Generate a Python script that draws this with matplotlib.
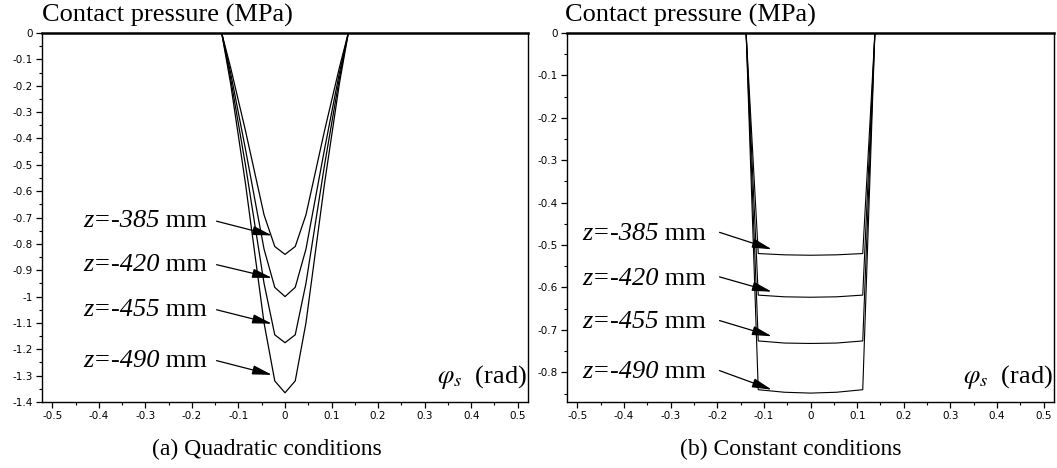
import numpy as np
import matplotlib
matplotlib.use('Agg')
import matplotlib.pyplot as plt
from matplotlib.ticker import MultipleLocator, FuncFormatter

# Presión de contacto vs ángulo
z_labels = ['-385', '-420', '-455', '-490']

quad_phi = [-0.136, -0.117, -0.085, -0.045, -0.022, 0.0, 0.022, 0.045, 0.085, 0.117, 0.136]
quad_p385 = [0, -0.13, -0.37, -0.69, -0.81, -0.84, -0.81, -0.69, -0.37, -0.13, 0]
quad_p420 = [0, -0.15, -0.44, -0.82, -0.965, -1.00, -0.965, -0.82, -0.44, -0.15, 0]
quad_p455 = [0, -0.17, -0.50, -0.95, -1.145, -1.175, -1.145, -0.95, -0.50, -0.17, 0]
quad_p490 = [0, -0.19, -0.57, -1.10, -1.32, -1.365, -1.32, -1.10, -0.57, -0.19, 0]

const_phi = [-0.138, -0.112, -0.056, 0.0, 0.056, 0.112, 0.138]
const_p385 = [0, -0.520, -0.523, -0.524, -0.523, -0.520, 0]
const_p420 = [0, -0.618, -0.622, -0.623, -0.622, -0.618, 0]
const_p455 = [0, -0.726, -0.731, -0.732, -0.731, -0.726, 0]
const_p490 = [0, -0.841, -0.847, -0.849, -0.847, -0.841, 0]

# posiciones de las etiquetas y flechas (coordenadas de datos)
quad_txt_y = [-0.715, -0.88, -1.05, -1.245]
quad_arrow_start = [(-0.147, -0.714), (-0.147, -0.879), (-0.147, -1.050), (-0.147, -1.243)]
quad_arrow_tip = [(-0.028, -0.768), (-0.028, -0.929), (-0.028, -1.103), (-0.028, -1.297)]

const_txt_y = [-0.475, -0.580, -0.682, -0.800]
const_arrow_start = [(-0.195, -0.470), (-0.195, -0.575), (-0.195, -0.678), (-0.195, -0.796)]
const_arrow_tip = [(-0.083, -0.510), (-0.083, -0.610), (-0.083, -0.715), (-0.083, -0.841)]

plt.rcParams['mathtext.fontset'] = 'stix'
plt.rcParams['axes.unicode_minus'] = False
SERIF = 'Liberation Serif'


def fmt(v, pos):
    s = f'{v:.2f}'.rstrip('0').rstrip('.')
    if s in ('-0', '0'):
        return '0'
    return s


def estilo(ax, ylim):
    ax.set_xlim(-0.522, 0.522)
    ax.set_ylim(ylim, 0)
    ax.xaxis.set_major_locator(MultipleLocator(0.1))
    ax.xaxis.set_minor_locator(MultipleLocator(0.05))
    ax.yaxis.set_major_locator(MultipleLocator(0.1))
    ax.yaxis.set_minor_locator(MultipleLocator(0.05))
    ax.xaxis.set_major_formatter(FuncFormatter(fmt))
    ax.yaxis.set_major_formatter(FuncFormatter(fmt))
    ax.tick_params(which='major', length=4, width=0.9, labelsize=7.5, pad=2.5)
    ax.tick_params(which='minor', length=2.2, width=0.8)
    for lado in ['left', 'bottom', 'right']:
        ax.spines[lado].set_linewidth(1.0)
    ax.spines['top'].set_linewidth(1.8)


def etiqueta(ax, x, y, num, start, tip):
    t = ax.text(x, y, 'z=' + num, fontfamily=SERIF, fontstyle='italic',
                fontsize=19, ha='left', va='center')
    ax.annotate(' mm', xy=(1, 0), xycoords=t, va='bottom', ha='left',
                fontfamily=SERIF, fontsize=19)
    ax.annotate('', xy=tip, xytext=start,
                arrowprops=dict(arrowstyle='-|>,head_length=0.85,head_width=0.2',
                                mutation_scale=14, color='black', lw=0.9,
                                shrinkA=0, shrinkB=0))


fig = plt.figure(figsize=(10.57, 4.68), dpi=100)
ax1 = fig.add_axes([42 / 1057, 66 / 468, 486 / 1057, 369 / 468])
ax2 = fig.add_axes([567 / 1057, 66 / 468, 487 / 1057, 369 / 468])

# (a) condiciones cuadráticas
for p in [quad_p385, quad_p420, quad_p455, quad_p490]:
    ax1.plot(quad_phi, p, color='black', lw=0.9)
estilo(ax1, -1.4)
for num, y, s, tp in zip(z_labels, quad_txt_y, quad_arrow_start, quad_arrow_tip):
    etiqueta(ax1, -0.434, y, num, s, tp)

# (b) condiciones constantes
for p in [const_p385, const_p420, const_p455, const_p490]:
    ax2.plot(const_phi, p, color='black', lw=0.8)
estilo(ax2, -0.87)
for num, y, s, tp in zip(z_labels, const_txt_y, const_arrow_start, const_arrow_tip):
    etiqueta(ax2, -0.49, y, num, s, tp)

for ax in [ax1, ax2]:
    ax.text(0.999, 0.052, r'$\varphi_s$  (rad)', transform=ax.transAxes,
            ha='right', va='baseline', fontsize=19, fontfamily=SERIF)

fig.text(42 / 1057, 1 - 22 / 468, 'Contact pressure (MPa)', fontfamily=SERIF,
         fontsize=19, ha='left', va='baseline')
fig.text(565 / 1057, 1 - 22 / 468, 'Contact pressure (MPa)', fontfamily=SERIF,
         fontsize=19, ha='left', va='baseline')
fig.text(267 / 1057, 1 - 449 / 468, '(a) Quadratic conditions', fontfamily=SERIF,
         fontsize=17, ha='center', va='center')
fig.text(791 / 1057, 1 - 449 / 468, '(b) Constant conditions', fontfamily=SERIF,
         fontsize=17, ha='center', va='center')

fig.savefig('out.png', dpi=100)
plt.close(fig)
